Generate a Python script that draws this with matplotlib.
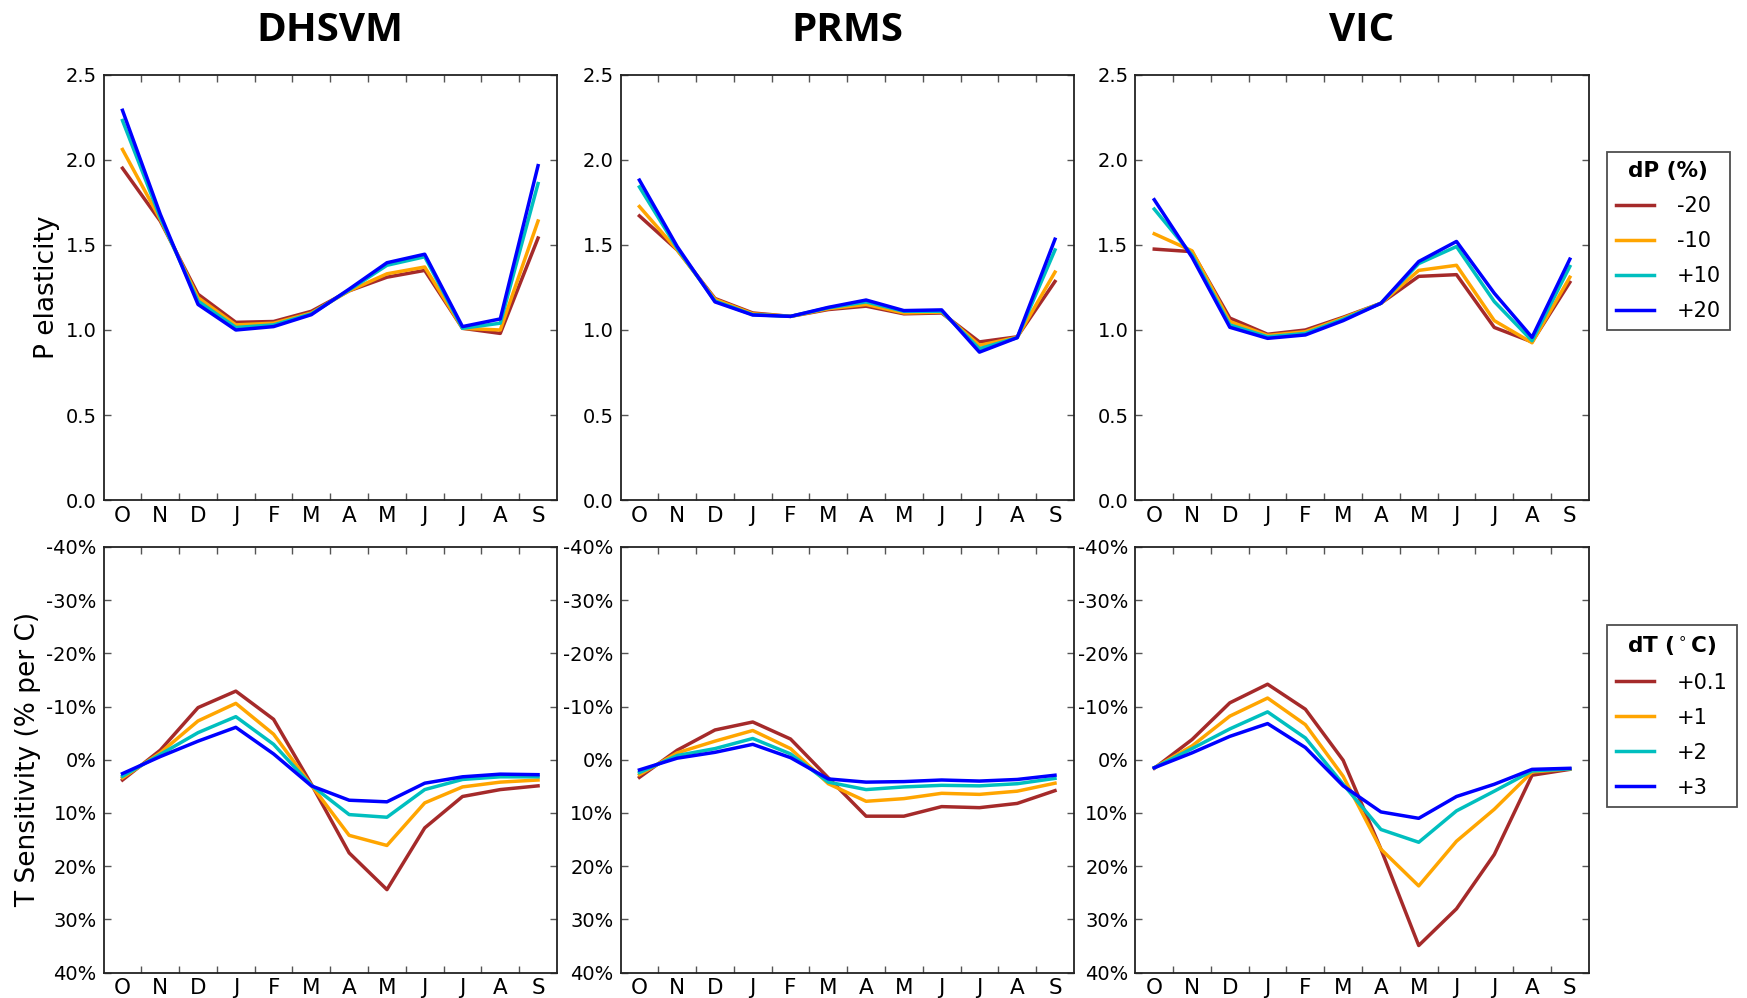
import matplotlib
matplotlib.use("Agg")
import matplotlib.pyplot as plt
import numpy as np
from matplotlib.ticker import FixedLocator, FixedFormatter

# Water-year months, October through September
months = ["O", "N", "D", "J", "F", "M", "A", "M", "J", "J", "A", "S"]
models = ["DHSVM", "PRMS", "VIC"]

# Precipitation scenarios (dP, %) and their elasticity per month
dp_labels = ["-20", "-10", "+10", "+20"]
dhsvm_p = [
    [1.95, 1.64, 1.21, 1.045, 1.05, 1.11, 1.23, 1.31, 1.35, 1.01, 0.98, 1.54],
    [2.06, 1.65, 1.19, 1.03, 1.04, 1.10, 1.23, 1.33, 1.37, 1.01, 1.00, 1.64],
    [2.23, 1.66, 1.17, 1.015, 1.03, 1.095, 1.235, 1.38, 1.43, 1.01, 1.04, 1.86],
    [2.29, 1.68, 1.15, 1.00, 1.02, 1.09, 1.24, 1.395, 1.445, 1.02, 1.065, 1.965],
]
prms_p = [
    [1.67, 1.47, 1.185, 1.10, 1.08, 1.12, 1.14, 1.095, 1.10, 0.93, 0.96, 1.285],
    [1.725, 1.47, 1.18, 1.095, 1.08, 1.125, 1.15, 1.10, 1.105, 0.91, 0.957, 1.34],
    [1.84, 1.48, 1.17, 1.09, 1.08, 1.13, 1.165, 1.11, 1.11, 0.89, 0.955, 1.47],
    [1.88, 1.49, 1.165, 1.088, 1.08, 1.133, 1.176, 1.114, 1.118, 0.87, 0.955, 1.533],
]
vic_p = [
    [1.475, 1.46, 1.07, 0.975, 1.00, 1.075, 1.157, 1.315, 1.325, 1.015, 0.93, 1.28],
    [1.565, 1.465, 1.05, 0.968, 0.99, 1.07, 1.157, 1.35, 1.38, 1.055, 0.925, 1.31],
    [1.71, 1.44, 1.03, 0.96, 0.98, 1.063, 1.157, 1.39, 1.49, 1.167, 0.937, 1.373],
    [1.765, 1.427, 1.016, 0.951, 0.971, 1.055, 1.157, 1.402, 1.52, 1.216, 0.957, 1.416],
]

# Temperature scenarios (dT, deg C) and sensitivity in % per deg C
dt_labels = ["+0.1", "+1", "+2", "+3"]
dhsvm_t = [
    [3.8, -1.8, -9.8, -12.9, -7.6, 4.6, 17.5, 24.4, 12.8, 6.9, 5.6, 4.9],
    [3.4, -1.3, -7.3, -10.6, -4.8, 4.8, 14.2, 16.1, 8.1, 5.1, 4.2, 3.8],
    [3.1, -1.0, -5.1, -8.1, -2.9, 4.8, 10.3, 10.8, 5.6, 3.7, 3.2, 3.2],
    [2.6, -0.6, -3.5, -6.1, -1.1, 4.9, 7.6, 7.9, 4.4, 3.2, 2.7, 2.8],
]
prms_t = [
    [3.3, -1.8, -5.6, -7.1, -3.9, 3.4, 10.6, 10.6, 8.8, 9.0, 8.2, 5.8],
    [2.8, -1.3, -3.5, -5.5, -2.1, 4.5, 7.8, 7.3, 6.3, 6.5, 5.9, 4.4],
    [2.4, -0.8, -2.1, -4.0, -1.1, 4.2, 5.6, 5.1, 4.8, 4.9, 4.5, 3.5],
    [1.9, -0.3, -1.4, -2.9, -0.4, 3.6, 4.2, 4.1, 3.8, 4.0, 3.7, 2.9],
]
vic_t = [
    [1.6, -3.8, -10.7, -14.2, -9.5, 0.1, 16.8, 34.9, 28.0, 17.8, 2.9, 1.8],
    [1.5, -2.6, -8.2, -11.6, -6.6, 3.1, 16.8, 23.7, 15.3, 9.3, 2.3, 1.7],
    [1.5, -2.1, -5.8, -9.0, -4.1, 4.6, 13.1, 15.5, 9.6, 5.9, 2.1, 1.7],
    [1.5, -1.3, -4.4, -6.8, -2.3, 4.9, 9.8, 11.0, 6.9, 4.6, 1.8, 1.6],
]

p_data = [dhsvm_p, prms_p, vic_p]
t_data = [dhsvm_t, prms_t, vic_t]
colors = ["#a52a2a", "#ffa500", "#00bfbf", "#0000ff"]

plt.rcParams["font.family"] = ["DejaVu Sans"]

fig = plt.figure(figsize=(17.47, 9.98), dpi=100)
fig.patch.set_facecolor("white")

lefts = [0.0593, 0.3552, 0.6499]
width = 0.2595
height = 0.4266
bottoms = [0.4987, 0.0254]

x = np.arange(len(months))


def style_axis(ax):
    ax.set_xlim(-0.5, len(months) - 0.5)
    ax.xaxis.set_major_locator(FixedLocator(np.arange(len(months) - 1) + 0.5))
    ax.xaxis.set_major_formatter(FixedFormatter([""] * (len(months) - 1)))
    ax.xaxis.set_minor_locator(FixedLocator(x))
    ax.xaxis.set_minor_formatter(FixedFormatter(months))
    ax.tick_params(axis="x", which="minor", length=0, labelsize=15.5, pad=4)
    ax.tick_params(axis="both", which="major", direction="in", length=5,
                   width=1, color="#555555", top=True, right=True,
                   labelsize=14)
    ax.tick_params(axis="y", pad=5)
    for sp in ax.spines.values():
        sp.set_linewidth(1.3)
        sp.set_color("#222222")


p_lines = []
t_lines = []
for j in range(3):
    ax = fig.add_axes([lefts[j], bottoms[0], width, height])
    for k, series in enumerate(p_data[j]):
        ln, = ax.plot(x, series, color=colors[k], lw=2.5, label=dp_labels[k])
        if j == 0:
            p_lines.append(ln)
    ax.set_ylim(0, 2.5)
    ax.set_yticks(np.arange(0, 2.51, 0.5))
    ax.set_yticklabels([f"{v:.1f}" for v in np.arange(0, 2.51, 0.5)])
    style_axis(ax)
    ax.set_title(models[j], fontsize=29, fontweight="bold",
                 family=["Open Sans", "DejaVu Sans"], pad=24)
    if j == 0:
        ax.set_ylabel("P elasticity", fontsize=19)

    axb = fig.add_axes([lefts[j], bottoms[1], width, height])
    for k, series in enumerate(t_data[j]):
        ln, = axb.plot(x, series, color=colors[k], lw=2.5, label=dt_labels[k])
        if j == 0:
            t_lines.append(ln)
    axb.set_ylim(40, -40)
    yt = np.arange(-40, 41, 10)
    axb.set_yticks(yt)
    axb.set_yticklabels([f"{v}%" for v in yt])
    style_axis(axb)
    if j == 0:
        axb.set_ylabel("T Sensitivity (% per C)", fontsize=19)

leg_kw = dict(loc="upper left", frameon=True, fancybox=False, fontsize=15,
              borderaxespad=0, handlelength=1.8, handletextpad=1.1,
              labelspacing=0.72, borderpad=0.45)
leg1 = fig.legend(handles=p_lines, labels=dp_labels, title="dP (%)",
                  bbox_to_anchor=(0.9197, 0.848), **leg_kw)
leg2 = fig.legend(handles=t_lines, labels=dt_labels, title=r"dT ($^\circ$C)",
                  bbox_to_anchor=(0.9197, 0.3737), **leg_kw)
for leg in (leg1, leg2):
    leg.get_title().set_fontsize(15.5)
    leg.get_title().set_fontweight("bold")
    fr = leg.get_frame()
    fr.set_edgecolor("#222222")
    fr.set_linewidth(1.3)
    fr.set_facecolor("white")

fig.savefig("out.png", dpi=100, facecolor="white")
